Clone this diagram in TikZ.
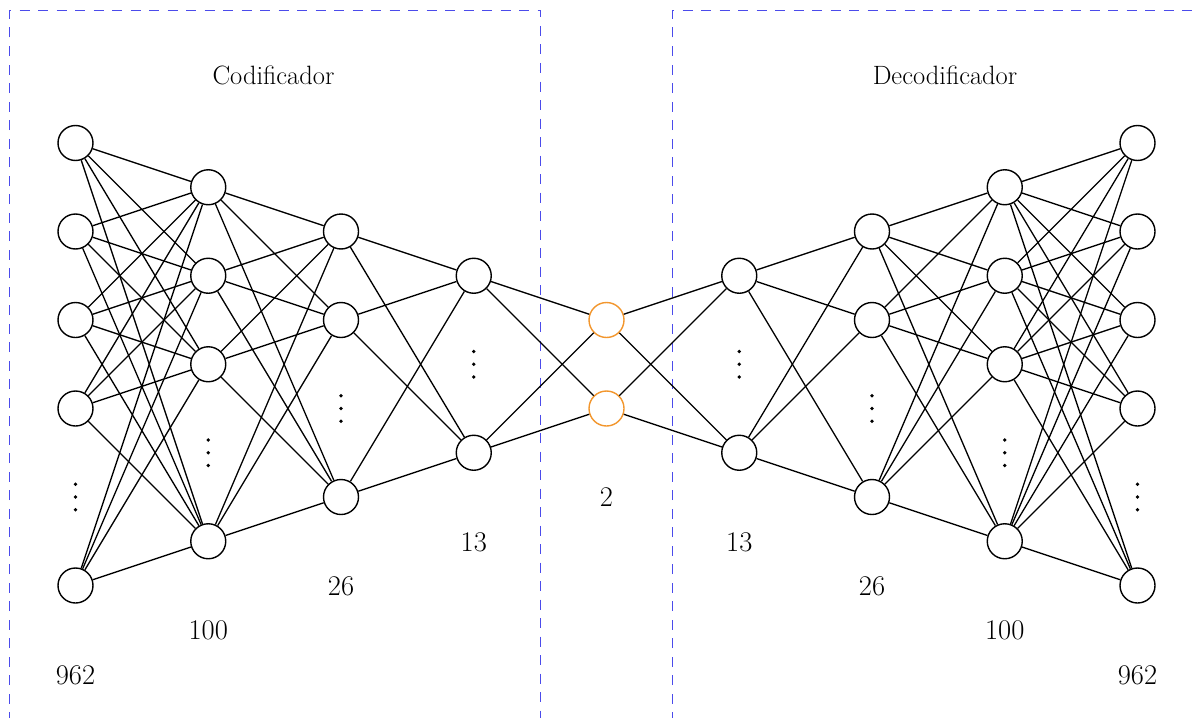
\documentclass[tikz,border=0pt]{standalone}
\definecolor{boxblue}{RGB}{75,75,235}
\definecolor{latorange}{RGB}{242,150,45}
\begin{document}
\begin{tikzpicture}[x=1pt,y=-1pt,
  neuron/.style={circle,draw=black,line width=1.4pt,minimum size=35pt,inner sep=0pt,fill=white},
  latent/.style={neuron,draw=latorange},
  edge/.style={line width=1.3pt,black},
  boxdash/.style={draw=boxblue,line width=1.8pt,dash pattern=on 10pt off 8.5pt},
  titletext/.style={font=\fontsize{26.5}{31}\selectfont},
  sizetext/.style={font=\fontsize{28.5}{33}\selectfont},
  dotmark/.style={fill=black,draw=none}]
\useasboundingbox (0,0) rectangle (1198,717);
\clip (0,0) rectangle (1198,717);

% dashed boxes
\draw[boxdash] (9.5,722) -- (9.5,10.5) -- (540.5,10.5) -- (540.5,722);
\draw[boxdash] (672.5,722) -- (672.5,10.5) -- (1205,10.5);

% titles
\node[titletext] (tenc) at (273.5,75) {Codificador};
\node[titletext] (tdec) at (945,75) {Decodificador};

% neurons
\foreach \k in {0,2,4,6,10} {
  \node[neuron] (n1-\k) at (75.5,{143+44.25*\k}) {};
  \node[neuron] (n9-\k) at (1137.5,{143+44.25*\k}) {};
}
\foreach \k in {1,3,5,9} {
  \node[neuron] (n2-\k) at (208.25,{143+44.25*\k}) {};
  \node[neuron] (n8-\k) at (1004.75,{143+44.25*\k}) {};
}
\foreach \k in {2,4,8} {
  \node[neuron] (n3-\k) at (341,{143+44.25*\k}) {};
  \node[neuron] (n7-\k) at (872,{143+44.25*\k}) {};
}
\foreach \k in {3,7} {
  \node[neuron] (n4-\k) at (473.75,{143+44.25*\k}) {};
  \node[neuron] (n6-\k) at (739.25,{143+44.25*\k}) {};
}
\foreach \k in {4,6} {
  \node[latent] (n5-\k) at (606.5,{143+44.25*\k}) {};
}

% edges
\foreach \a in {0,2,4,6,10} \foreach \b in {1,3,5,9} {
  \draw[edge] (n1-\a) -- (n2-\b);
  \draw[edge] (n9-\a) -- (n8-\b);
}
\foreach \a in {1,3,5,9} \foreach \b in {2,4,8} {
  \draw[edge] (n2-\a) -- (n3-\b);
  \draw[edge] (n8-\a) -- (n7-\b);
}
\foreach \a in {2,4,8} \foreach \b in {3,7} {
  \draw[edge] (n3-\a) -- (n4-\b);
  \draw[edge] (n7-\a) -- (n6-\b);
}
\foreach \a in {3,7} \foreach \b in {4,6} {
  \draw[edge] (n4-\a) -- (n5-\b);
  \draw[edge] (n6-\a) -- (n5-\b);
}

% vertical ellipses
\foreach \x/\k in {75.5/8,208.25/7,341/6,473.75/5,739.25/5,872/6,1004.75/7,1137.5/8} {
  \foreach \d in {-12.7,0,12.7} {
    \fill[dotmark] (\x,{143+44.25*\k+\d}) circle (1.9pt);
  }
}

% layer sizes
\node[sizetext] (s1) at (75.5,675) {962};
\node[sizetext] (s2) at (208.25,630.5) {100};
\node[sizetext] (s3) at (341,586.5) {26};
\node[sizetext] (s4) at (473.75,542.5) {13};
\node[sizetext] (s5) at (606.5,497) {2};
\node[sizetext] (s6) at (739.25,542.5) {13};
\node[sizetext] (s7) at (872,586.5) {26};
\node[sizetext] (s8) at (1004.75,630.5) {100};
\node[sizetext] (s9) at (1137.5,675) {962};
\end{tikzpicture}
\end{document}
